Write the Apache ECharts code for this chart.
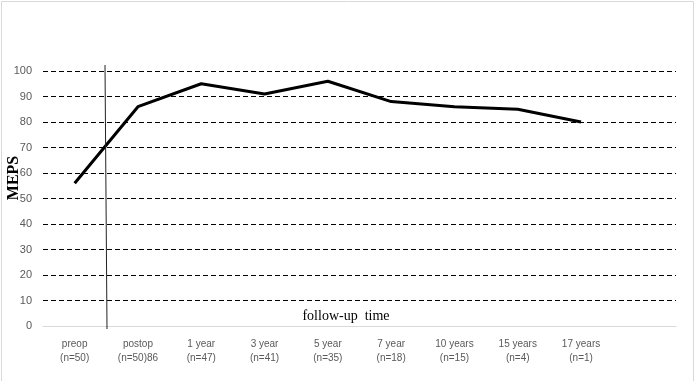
<!DOCTYPE html>
<html>
<head>
<meta charset="utf-8">
<script src="https://cdn.jsdelivr.net/npm/echarts@6/dist/echarts.min.js"></script>
<style>html,body{margin:0;padding:0;background:#fff}#c{width:696px;height:381px}</style>
</head>
<body>
<div id="c"></div>
<script>
const categories = ['preop\n(n=50)', 'postop\n(n=50)86', '1 year\n(n=47)', '3 year\n(n=41)', '5 year\n(n=35)', '7 year\n(n=18)', '10 years\n(n=15)', '15 years\n(n=4)', '17 years\n(n=1)', ''];
const meps = [56, 86, 95, 91, 96, 88, 86, 85, 80];
const yTicks = [0, 10, 20, 30, 40, 50, 60, 70, 80, 90, 100];
const yTitle = 'MEPS';
const xTitle = 'follow-up  time';

const chart = echarts.init(document.getElementById('c'), null, {renderer: 'canvas'});
chart.setOption({
  animation: false,
  backgroundColor: '#fff',
  grid: {left: 43, right: 20, top: 71, bottom: 55},
  xAxis: {
    type: 'category',
    data: categories,
    boundaryGap: true,
    axisLine: {lineStyle: {color: '#d9d9d9', width: 1}},
    axisTick: {show: false},
    axisLabel: {color: '#595959', fontFamily: 'Liberation Sans', fontSize: 10, lineHeight: 14, margin: 11, interval: 0}
  },
  yAxis: {
    type: 'value',
    min: yTicks[0],
    max: yTicks[yTicks.length - 1],
    interval: 10,
    axisLine: {show: false},
    axisTick: {show: false},
    axisLabel: {color: '#595959', fontFamily: 'Liberation Sans', fontSize: 11, margin: 11},
    splitLine: {show: true, showMinLine: false, lineStyle: {color: '#000', type: [5, 3], width: 1}}
  },
  series: [{
    type: 'line',
    data: meps,
    symbol: 'none',
    lineStyle: {color: '#000', width: 3},
    z: 5
  }],
  graphic: [
    {type: 'rect', shape: {x: 1.5, y: 1.5, width: 692, height: 400}, style: {fill: 'none', stroke: '#d9d9d9', lineWidth: 1}, silent: true},
    {type: 'line', shape: {x1: 105, y1: 65, x2: 107, y2: 329}, style: {stroke: '#222', lineWidth: 1}, z: 10},
    {type: 'text', x: 346, y: 316, style: {text: xTitle, font: '14px "Liberation Serif"', fill: '#000', textAlign: 'center', textVerticalAlign: 'middle'}},
    {type: 'text', x: 14, y: 178, rotation: Math.PI / 2, style: {text: yTitle, font: 'bold 16px "Liberation Serif"', fill: '#000', textAlign: 'center', textVerticalAlign: 'middle'}}
  ]
});
</script>
</body>
</html>
